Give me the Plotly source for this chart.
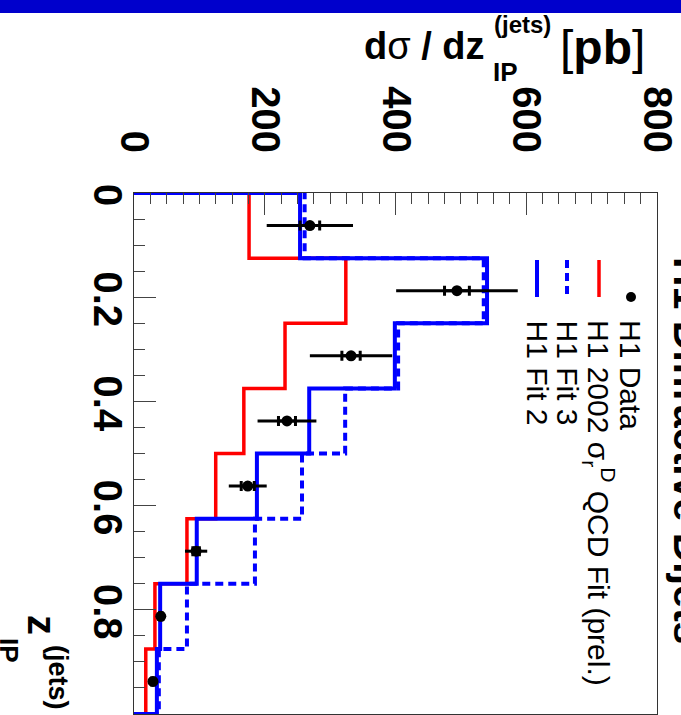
import plotly.graph_objects as go

# ---- data ----
z_edges = [0.0, 0.125, 0.25, 0.375, 0.5, 0.625, 0.75, 0.875, 1.0]
z_centers = [0.0625, 0.1875, 0.3125, 0.4375, 0.5625, 0.6875, 0.8125, 0.9375]
data_val = [269, 494, 332, 234, 174, 95, 41, 29]
data_err_tot = [66, 93, 63, 45, 29, 17, 5, 4]
data_err_stat = [15, 19, 14, 13, 10, 5, 2, 2]
fit2002 = [176, 324, 231, 168, 125, 81, 32, 18]
fit3 = [261, 535, 404, 323, 257, 185, 81, 38]
fit2 = [254, 540, 399, 268, 188, 96, 40, 35]

x_ticks = [0, 200, 400, 600, 800]
x_ticktext = ["0", "200", "400", "600", "800"]
z_ticks = [0, 0.2, 0.4, 0.6, 0.8, 1.0]
z_ticktext = ["0", "0.2", "0.4", "0.6", "0.8", "1"]

BLUE = "#0000FF"
RED = "#FF0000"
FONT = "Liberation Sans, Arial, Helvetica, sans-serif"

# plot area geometry (pixels)
W, H = 681, 715
L, T, R, B = 134, 193, 657, 714


def px(x):
    return (x - L) / (R - L)


def py(y):
    return (B - y) / (B - T)


def steps(vals):
    xs, ys = [0], [z_edges[0]]
    for i, v in enumerate(vals):
        xs += [v, v]
        ys += [z_edges[i], z_edges[i + 1]]
    xs.append(0)
    ys.append(z_edges[-1])
    return xs, ys


fig = go.Figure()

for vals, color, dash, width in [
    (fit2002, RED, "solid", 3.5),
    (fit3, BLUE, "8px,5px", 4),
    (fit2, BLUE, "solid", 4),
]:
    xs, ys = steps(vals)
    fig.add_trace(go.Scatter(x=xs, y=ys, mode="lines", cliponaxis=False,
                             line=dict(color=color, width=width, dash=dash),
                             hoverinfo="skip", showlegend=False))

# total error (no caps)
fig.add_trace(go.Scatter(
    x=data_val, y=z_centers, mode="markers", cliponaxis=False,
    marker=dict(color="black", size=2),
    error_x=dict(type="data", array=data_err_tot, color="black", thickness=3, width=0),
    showlegend=False))
# stat error (with caps) + points
fig.add_trace(go.Scatter(
    x=data_val, y=z_centers, mode="markers", cliponaxis=False,
    marker=dict(color="black", size=11),
    error_x=dict(type="data", array=data_err_stat, color="black", thickness=3, width=5),
    showlegend=False))
# invisible trace carrying the label axis for z
fig.add_trace(go.Scatter(
    x=data_val, y=z_centers, yaxis="y2", mode="markers",
    marker=dict(opacity=0), hoverinfo="skip", showlegend=False))

tickfont = dict(family=FONT, size=40, color="black", weight="bold")
axis_common = dict(
    showline=True, linecolor="#333", linewidth=1, mirror=True,
    showgrid=False, zeroline=False, automargin=False,
    ticks="inside", ticklen=22, tickwidth=1, tickcolor="#444",
    tickangle=90, tickfont=tickfont,
)

fig.update_xaxes(range=[0, 800], side="top", tickvals=x_ticks, ticktext=x_ticktext,
                 minor=dict(dtick=25, ticklen=11, ticks="inside", tickcolor="#444", tickwidth=1),
                 ticklabelstandoff=25, **axis_common)
fig.update_yaxes(range=[1, 0], tickvals=z_ticks, showticklabels=False,
                 minor=dict(dtick=0.05, ticklen=11, ticks="inside", tickcolor="#444", tickwidth=1),
                 **axis_common)

fig.update_layout(yaxis2=dict(
    range=[1, 0], overlaying="y", anchor="free", position=0, side="left",
    tickvals=z_ticks, ticktext=z_ticktext, tickangle=90, tickfont=tickfont,
    showline=False, ticks="", showgrid=False, zeroline=False, automargin=False,
    ticklabelshift=-8,
))

shapes = []
# blue header bar
shapes.append(dict(type="rect", xref="paper", yref="paper", x0=px(-2), x1=px(W + 2),
                   y0=py(13), y1=py(-2), fillcolor="#0000CC", line=dict(width=0), layer="above"))
# legend symbols
shapes.append(dict(type="circle", xref="paper", yref="paper", x0=px(626), x1=px(636),
                   y0=py(302), y1=py(292), fillcolor="black", line=dict(width=0)))
shapes.append(dict(type="line", xref="paper", yref="paper", x0=px(599), x1=px(599),
                   y0=py(260), y1=py(297), line=dict(color=RED, width=3.5)))
shapes.append(dict(type="line", xref="paper", yref="paper", x0=px(567), x1=px(567),
                   y0=py(260), y1=py(297), line=dict(color=BLUE, width=4, dash="8px,5px")))
shapes.append(dict(type="line", xref="paper", yref="paper", x0=px(537), x1=px(537),
                   y0=py(260), y1=py(297), line=dict(color=BLUE, width=4)))

ann = []


def add_ann(text, x, y, size, xanchor="center", yanchor="middle", angle=0, bold=False):
    ann.append(dict(text=text, x=px(x), y=py(y), xref="paper", yref="paper",
                    xanchor=xanchor, yanchor=yanchor, showarrow=False, textangle=angle,
                    font=dict(family=FONT, size=size, color="black",
                              weight="bold" if bold else "normal")))


NORMAL = "<span style='font-weight:normal'>{}</span>"

# legend texts
add_ann("H1 Data", 631, 318, 30, yanchor="top", angle=90)
add_ann("H1 2002 σ<sub>r</sub><sup>D</sup> QCD Fit (prel.)", 599, 318, 30, yanchor="top", angle=90)
add_ann("H1 Fit 3", 567, 318, 30, yanchor="top", angle=90)
add_ann("H1 Fit 2", 537, 318, 30, yanchor="top", angle=90)

# right title
add_ann("H1 Diffractive Dijets", 688, 450, 41, angle=90, bold=True)

# value-axis title (top)
add_ann("d" + NORMAL.format("σ") + " / dz", 362, 46, 38, xanchor="left", bold=True)
add_ann("(jets)", 492, 25, 24, xanchor="left", bold=True)
add_ann("IP", 491, 72, 26, xanchor="left", bold=True)
add_ann(NORMAL.format("[") + "pb" + NORMAL.format("]"), 558, 47, 48, xanchor="left", bold=True)

# z-axis title (bottom-left)
add_ann("z", 42, 625, 40, angle=90, bold=True)
add_ann("IP", 9, 650, 26, angle=90, bold=True)
add_ann("(jets)", 58, 678, 27, angle=90, bold=True)

fig.update_layout(
    width=W, height=H,
    margin=dict(l=L, r=W - R, t=T, b=H - B),
    paper_bgcolor="white", plot_bgcolor="white",
    showlegend=False, shapes=shapes, annotations=ann,
)

fig.write_html("out.html", config={"displayModeBar": False},
               post_script="document.body.style.margin='0';")
